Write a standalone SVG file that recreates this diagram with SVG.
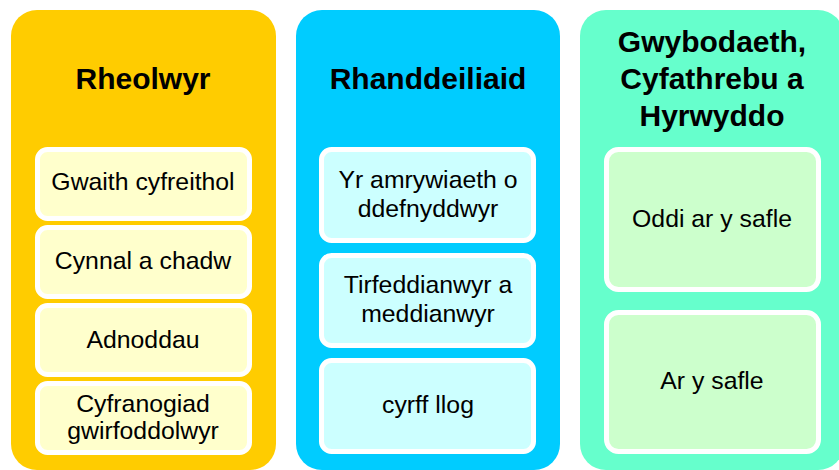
<svg xmlns="http://www.w3.org/2000/svg" width="839" height="470" viewBox="0 0 839 470">
<style>
.title{font-family:"Liberation Sans",Arial,sans-serif;font-weight:bold;font-size:30px;fill:#000;text-anchor:middle}
.lbl{font-family:"Liberation Sans",Arial,sans-serif;font-size:24.8px;fill:#000;text-anchor:middle}
.box{stroke:#fff;stroke-width:5}
.c1{fill:#FFFFCC}.c2{fill:#CCFFFF}.c3{fill:#CCFFCC}
</style>
<rect width="839" height="470" fill="#fff"/>
<g id="col1">
<rect x="11" y="10" width="265" height="460" rx="26" fill="#FFCC00"/>
<text class="title" x="143" y="89">Rheolwyr</text>
</g>
<g id="col2">
<rect x="296" y="10" width="264" height="460" rx="26" fill="#00CCFF"/>
<text class="title" x="428" y="89">Rhanddeiliaid</text>
</g>
<g id="col3">
<rect x="580" y="10" width="264" height="460" rx="26" fill="#66FFCC"/>
<text class="title" x="712" y="52">Gwybodaeth,</text>
<text class="title" x="712" y="89">Cyfathrebu a</text>
<text class="title" x="712" y="126">Hyrwyddo</text>
</g>
<g id="n1"><rect class="box c1" x="37.5" y="149.5" width="212" height="69" rx="10"/><text class="lbl" x="143" y="190">Gwaith cyfreithol</text></g>
<g id="n2"><rect class="box c1" x="37.5" y="227.5" width="212" height="69" rx="10"/><text class="lbl" x="143" y="269">Cynnal a chadw</text></g>
<g id="n3"><rect class="box c1" x="37.5" y="305.5" width="212" height="69" rx="10"/><text class="lbl" x="143" y="348">Adnoddau</text></g>
<g id="n4"><rect class="box c1" x="37.5" y="383.5" width="212" height="69" rx="10"/><text class="lbl" x="143" y="412">Cyfranogiad</text><text class="lbl" x="143" y="439">gwirfoddolwyr</text></g>
<g id="n5"><rect class="box c2" x="321.5" y="149.5" width="212" height="91" rx="10"/><text class="lbl" x="428" y="188">Yr amrywiaeth o</text><text class="lbl" x="428" y="217">ddefnyddwyr</text></g>
<g id="n6"><rect class="box c2" x="321.5" y="255.5" width="212" height="90" rx="10"/><text class="lbl" x="428" y="293">Tirfeddianwyr a</text><text class="lbl" x="428" y="322">meddianwyr</text></g>
<g id="n7"><rect class="box c2" x="321.5" y="360.5" width="212" height="91" rx="10"/><text class="lbl" x="428" y="413">cyrff llog</text></g>
<g id="n8"><rect class="box c3" x="606.5" y="149.5" width="212" height="140" rx="12"/><text class="lbl" x="712" y="227">Oddi ar y safle</text></g>
<g id="n9"><rect class="box c3" x="606.5" y="312.5" width="212" height="139" rx="12"/><text class="lbl" x="712" y="389">Ar y safle</text></g>
<g id="connectors"/>
</svg>
